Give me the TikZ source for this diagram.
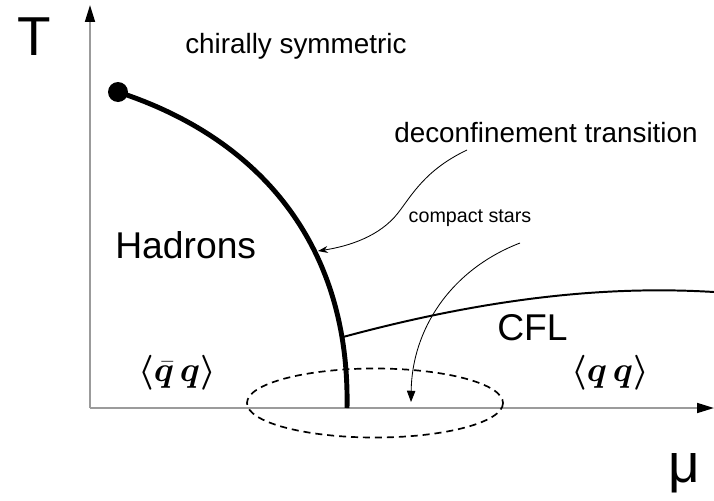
\documentclass[tikz,border=0pt]{standalone}
\usepackage{amsmath,amssymb,bm}
\usepackage{fontspec}
\setmainfont{Liberation Sans}
\usetikzlibrary{arrows.meta}
\definecolor{axisgray}{RGB}{155,155,155}

\begin{document}
\begin{tikzpicture}[x=0.025cm, y=-0.025cm,
		axis/.style={axisgray, line width=1.4pt, -{Triangle[black,length=12pt,width=7pt]}},
		lbl/.style={inner sep=0pt, font=\fontsize{19.8pt}{22pt}\selectfont},
		biglbl/.style={inner sep=0pt, font=\fontsize{26.5pt}{30pt}\selectfont},
		axlbl/.style={inner sep=0pt, font=\fontsize{39pt}{44pt}\selectfont},
		smalllbl/.style={inner sep=0pt, font=\fontsize{14pt}{16pt}\selectfont},
		cond/.style={inner sep=0pt, font=\fontsize{25pt}{28pt}\selectfont},
		pointer/.style={line width=0.6pt, -{Stealth[length=7pt,width=5pt]}},
		starptr/.style={line width=0.6pt, -{Triangle[length=8pt,width=6pt]}}
	]
		\useasboundingbox (0,0) rectangle (714,500);

		% axes
		\coordinate (O) at (90,408);
		\coordinate (ytip) at (90,5);
		\coordinate (xtip) at (714,408);
		\draw[axis] (O) -- (ytip);
		\draw[axis] (O) -- (xtip);
		\node[axlbl, anchor=base west] (T) at (17,55) {T};
		\node[axlbl, anchor=base west] (mu) at (668,482) {μ};

		% phase boundaries
		\coordinate (cep) at (118,92);
		\coordinate (mu0) at (347,408);
		\coordinate (cflstart) at (343,337);
		\coordinate (cflend) at (714,292);
		\draw[line width=3.5pt] (cep) .. controls (265,140) and (350,250) .. (mu0);
		\fill (cep) circle [radius=10];
		\draw[line width=1.4pt] (cflstart) .. controls (480,300) and (600,285) .. (cflend);

		% stars region
		\draw[line width=1.2pt, dash pattern=on 5pt off 3.5pt] (375,403) ellipse [x radius=128, y radius=34.5];

		% labels
		\node[lbl, anchor=base west] (chiral) at (185,53) {chirally symmetric};
		\node[lbl, anchor=base west] (deconf) at (394,142) {deconfinement transition};
		\node[biglbl, anchor=base west] (hadrons) at (115,258) {Hadrons};
		\node[biglbl, anchor=base west] (cfl) at (497,340) {CFL};
		\node[smalllbl] (stars) at (470,218) {compact stars};
		\node[cond] (qbarq) at (177,373) {$\bm{\langle}\bar{\bm q}\,\bm q\bm{\rangle}$};
		\node[cond] (qq) at (610,373) {$\bm{\langle}\bm q\,\bm q\bm{\rangle}$};

		% pointers
		\coordinate (dtail) at (467,150);
		\coordinate (dhead) at (318,251);
		\coordinate (stail) at (520,243);
		\coordinate (shead) at (411,402);
		\draw[pointer] (dtail) .. controls (425,170) and (412,195) .. (398,213)
			.. controls (380,236) and (350,246) .. (dhead);
		\draw[starptr] (stail) .. controls (450,270) and (412,330) .. (shead);
	\end{tikzpicture}
\end{document}
